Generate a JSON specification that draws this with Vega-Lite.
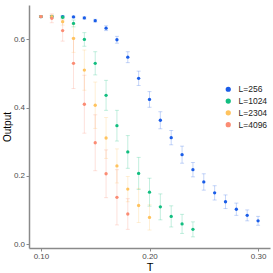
{
  "$schema": "https://vega.github.io/schema/vega-lite/v6.json",
  "autosize": "none",
  "width": 241,
  "height": 243,
  "padding": {"left": 29, "top": 5, "right": 3, "bottom": 25},
  "background": "white",
  "config": {
    "view": {"stroke": null},
    "font": "Liberation Sans",
    "axis": {"grid": false, "domainColor": "#8a8a8a", "domainWidth": 1.5, "tickColor": "#8a8a8a", "tickSize": 3, "labelColor": "#4d4d4d", "labelFontSize": 8, "labelPadding": 1.5, "titleColor": "#000000", "titleFontWeight": "normal"}
  },
  "data": {"values": [
    {"T":0.10,"L":"L=256","y":0.667,"e":0.002},
    {"T":0.11,"L":"L=256","y":0.667,"e":0.002},
    {"T":0.12,"L":"L=256","y":0.667,"e":0.002},
    {"T":0.13,"L":"L=256","y":0.666,"e":0.002},
    {"T":0.14,"L":"L=256","y":0.663,"e":0.003},
    {"T":0.15,"L":"L=256","y":0.655,"e":0.004},
    {"T":0.16,"L":"L=256","y":0.633,"e":0.007},
    {"T":0.17,"L":"L=256","y":0.599,"e":0.010},
    {"T":0.18,"L":"L=256","y":0.548,"e":0.016},
    {"T":0.19,"L":"L=256","y":0.486,"e":0.021},
    {"T":0.20,"L":"L=256","y":0.424,"e":0.023},
    {"T":0.21,"L":"L=256","y":0.363,"e":0.025},
    {"T":0.22,"L":"L=256","y":0.312,"e":0.021},
    {"T":0.23,"L":"L=256","y":0.262,"e":0.025},
    {"T":0.24,"L":"L=256","y":0.218,"e":0.021},
    {"T":0.25,"L":"L=256","y":0.182,"e":0.024},
    {"T":0.26,"L":"L=256","y":0.150,"e":0.021},
    {"T":0.27,"L":"L=256","y":0.124,"e":0.020},
    {"T":0.28,"L":"L=256","y":0.102,"e":0.018},
    {"T":0.29,"L":"L=256","y":0.084,"e":0.016},
    {"T":0.30,"L":"L=256","y":0.068,"e":0.013},
    {"T":0.10,"L":"L=1024","y":0.667,"e":0.002},
    {"T":0.11,"L":"L=1024","y":0.667,"e":0.003},
    {"T":0.12,"L":"L=1024","y":0.665,"e":0.004},
    {"T":0.13,"L":"L=1024","y":0.647,"e":0.010},
    {"T":0.14,"L":"L=1024","y":0.600,"e":0.020},
    {"T":0.15,"L":"L=1024","y":0.530,"e":0.034},
    {"T":0.16,"L":"L=1024","y":0.436,"e":0.044},
    {"T":0.17,"L":"L=1024","y":0.347,"e":0.045},
    {"T":0.18,"L":"L=1024","y":0.270,"e":0.048},
    {"T":0.19,"L":"L=1024","y":0.207,"e":0.047},
    {"T":0.20,"L":"L=1024","y":0.152,"e":0.041},
    {"T":0.21,"L":"L=1024","y":0.109,"e":0.038},
    {"T":0.22,"L":"L=1024","y":0.081,"e":0.031},
    {"T":0.23,"L":"L=1024","y":0.059,"e":0.028},
    {"T":0.24,"L":"L=1024","y":0.043,"e":0.022},
    {"T":0.10,"L":"L=2304","y":0.667,"e":0.002},
    {"T":0.11,"L":"L=2304","y":0.667,"e":0.005},
    {"T":0.12,"L":"L=2304","y":0.652,"e":0.010},
    {"T":0.13,"L":"L=2304","y":0.603,"e":0.041},
    {"T":0.14,"L":"L=2304","y":0.510,"e":0.059},
    {"T":0.15,"L":"L=2304","y":0.407,"e":0.068},
    {"T":0.16,"L":"L=2304","y":0.311,"e":0.060},
    {"T":0.17,"L":"L=2304","y":0.229,"e":0.050},
    {"T":0.18,"L":"L=2304","y":0.161,"e":0.037},
    {"T":0.19,"L":"L=2304","y":0.113,"e":0.050},
    {"T":0.20,"L":"L=2304","y":0.078,"e":0.037},
    {"T":0.10,"L":"L=4096","y":0.667,"e":0.003},
    {"T":0.11,"L":"L=4096","y":0.662,"e":0.013},
    {"T":0.12,"L":"L=4096","y":0.626,"e":0.031},
    {"T":0.13,"L":"L=4096","y":0.530,"e":0.074},
    {"T":0.14,"L":"L=4096","y":0.410,"e":0.085},
    {"T":0.15,"L":"L=4096","y":0.297,"e":0.082},
    {"T":0.16,"L":"L=4096","y":0.206,"e":0.070},
    {"T":0.17,"L":"L=4096","y":0.137,"e":0.081},
    {"T":0.18,"L":"L=4096","y":0.088,"e":0.045}
  ]},
  "encoding": {
    "x": {"field": "T", "type": "quantitative", "title": "T",
      "scale": {"domain": [0.089, 0.311], "nice": false, "zero": false},
      "axis": {"values": [0.1, 0.2, 0.3], "format": ".2f", "titleFontSize": 11, "titlePadding": 1}},
    "color": {"field": "L", "type": "nominal",
      "scale": {"domain": ["L=256", "L=1024", "L=2304", "L=4096"], "range": ["#1a5de8", "#12be80", "#ffc35e", "#fb8c74"]},
      "legend": {"title": null, "orient": "none", "legendX": 195, "legendY": 80, "labelFontSize": 8.5, "labelColor": "#222222", "symbolType": "circle", "symbolSize": 14, "rowPadding": 0.8, "symbolOpacity": 1, "labelOffset": 6}}
  },
  "layer": [
    {
      "mark": {"type": "errorbar", "ticks": {"size": 4, "opacity": 0.25}, "rule": {"opacity": 0.25}},
      "encoding": {
        "y": {"field": "y", "type": "quantitative", "title": "Output",
          "scale": {"domain": [-0.0117, 0.701], "nice": false, "zero": false},
          "axis": {"values": [0, 0.2, 0.4, 0.6], "format": ".1f", "titleFontSize": 10, "titlePadding": 1}},
        "yError": {"field": "e"}
      }
    },
    {
      "mark": {"type": "point", "filled": true, "size": 11, "opacity": 1},
      "encoding": {
        "y": {"field": "y", "type": "quantitative"}
      }
    }
  ]
}
